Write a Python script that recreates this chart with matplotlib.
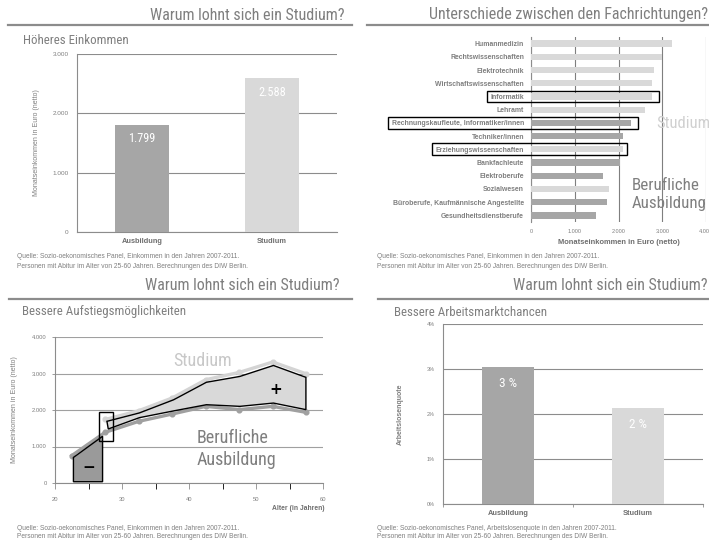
import matplotlib
matplotlib.use("Agg")
import matplotlib.pyplot as plt
from matplotlib.patches import Rectangle
from matplotlib.lines import Line2D

# --- Daten ---
edu_cats = ["Ausbildung", "Studium"]
income_avg = [1799, 2588]
income_labels = ["1.799", "2.588"]

fields = ["Humanmedizin", "Rechtswissenschaften", "Elektrotechnik",
          "Wirtschaftswissenschaften", "Informatik", "Lehramt",
          "Rechnungskaufleute, Informatiker/innen", "Techniker/innen",
          "Erziehungswissenschaften", "Bankfachleute", "Elektroberufe",
          "Sozialwesen", "Büroberufe, Kaufmännische Angestellte",
          "Gesundheitsdienstberufe"]
field_income = [3230, 3000, 2820, 2775, 2775, 2615, 2295, 2095, 2095,
                2035, 1655, 1780, 1735, 1480]
field_is_study = [True, True, True, True, True, True, False, False, True,
                  False, False, True, False, False]
boxed_fields = {"Informatik": (-1000, 2915),
                "Rechnungskaufleute, Informatiker/innen": (-3260, 2440),
                "Erziehungswissenschaften": (-2255, 2185)}

age_ausb = [22.5, 27.5, 32.5, 37.5, 42.5, 47.5, 52.5, 57.5]
inc_ausb = [750, 1390, 1690, 1890, 2100, 2010, 2100, 1935]
age_stud = [27.5, 32.5, 37.5, 42.5, 47.5, 52.5, 57.5]
inc_stud = [1740, 1980, 2330, 2830, 3030, 3315, 2990]

minus_age = [22.75, 22.75, 27.1, 27.1]
minus_val = [35, 700, 1280, 35]
plus_age_upper = [27.75, 32.6, 37.7, 42.6, 47.6, 52.6, 57.45]
plus_val_upper = [1690, 1920, 2280, 2760, 2920, 3220, 2895]
plus_age_lower = [57.45, 52.6, 47.6, 42.6, 37.7, 32.6, 27.95]
plus_val_lower = [2010, 2190, 2100, 2145, 1975, 1790, 1480]

unemp = [3.04, 2.13]
unemp_labels = ["3 %", "2 %"]

source1 = "Quelle: Sozio-oekonomisches Panel, Einkommen in den Jahren 2007-2011."
source2 = "Quelle: Sozio-oekonomisches Panel, Arbeitslosenquote in den Jahren 2007-2011."
persons = "Personen mit Abitur im Alter von 25-60 Jahren. Berechnungen des DIW Berlin."

# --- Stil ---
NARROW = ["Roboto Condensed", "DejaVu Sans"]
SANS = ["Liberation Sans", "DejaVu Sans"]
GREY_TXT = "#7f7f7f"
LAB_TXT = "#6e6e6e"
DARK = "#a6a6a6"
LIGHT = "#d9d9d9"
GRID = "#8c8c8c"

W, H = 709, 540
fig = plt.figure(figsize=(W / 100, H / 100), dpi=100)


def rect(l, t, r, b):
    return [l / W, 1 - b / H, (r - l) / W, (b - t) / H]


def ftext(x, y, s, **kw):
    return fig.text(x / W, 1 - y / H, s, **kw)


def header(title, tx, ty, x0, x1, ly):
    ftext(tx, ty, title, ha="right", va="center", family=NARROW,
          fontsize=11.5, color=GREY_TXT)
    fig.add_artist(Line2D([x0 / W, x1 / W], [1 - ly / H, 1 - ly / H],
                          color="#8c8c8c", lw=1.6, transform=fig.transFigure))


def footer(x, y, first):
    ftext(x, y, first, ha="left", va="center", family=SANS, fontsize=4.75,
          color=GREY_TXT)
    ftext(x, y + 9, persons, ha="left", va="center", family=SANS,
          fontsize=4.75, color=GREY_TXT)


def style_axis(ax, tsize=4.0):
    for s in ["top", "right"]:
        ax.spines[s].set_visible(False)
    for s in ["left", "bottom"]:
        ax.spines[s].set_color(GRID)
        ax.spines[s].set_linewidth(0.8)
    ax.tick_params(colors=GRID, labelcolor=GREY_TXT, labelsize=tsize,
                   length=2.5, width=0.6)
    for lab in ax.get_yticklabels() + ax.get_xticklabels():
        lab.set_family(SANS)


# ---------- Panel 1: Höheres Einkommen ----------
header("Warum lohnt sich ein Studium?", 345, 15, 8, 352, 25)
ftext(23, 40, "Höheres Einkommen", ha="left", va="center", family=NARROW,
      fontsize=9.3, color=GREY_TXT)
ax1 = fig.add_axes(rect(77, 54, 337, 232))
x = range(len(edu_cats))
ax1.bar(x, income_avg, width=0.41, color=[DARK, LIGHT], zorder=3)
for xi, v, lab in zip(x, income_avg, income_labels):
    ax1.text(xi, v - 230, lab, ha="center", va="center", color="white",
             family=NARROW, fontsize=8.8, zorder=4)
ax1.set_xlim(-0.5, 1.5)
ax1.set_ylim(0, 3000)
ax1.set_yticks([0, 1000, 2000, 3000])
ax1.set_yticklabels(["0", "1.000", "2.000", "3.000"])
ax1.set_xticks(list(x))
ax1.set_xticklabels(edu_cats, fontweight="bold")
ax1.yaxis.grid(True, color=GRID, lw=0.8)
style_axis(ax1, 4.6)
ax1.tick_params(axis="x", length=0, labelcolor=LAB_TXT, labelsize=5.3, pad=4)
ax1.tick_params(axis="y", length=0, pad=6)
ax1.set_ylabel("Monatseinkommen in Euro (netto)", family=SANS, fontsize=5.0,
               color=GREY_TXT, labelpad=9)
footer(17, 257, source1)

# ---------- Panel 2: Fachrichtungen ----------
header("Unterschiede zwischen den Fachrichtungen?", 708, 15, 367, 709, 25)
ax2 = fig.add_axes(rect(531, 37, 706, 222))
y = range(len(fields))
cols = [LIGHT if s else DARK for s in field_is_study]
ax2.barh(y, field_income, height=0.48, color=cols, zorder=3)
ax2.set_ylim(len(fields) - 0.5, -0.5)
ax2.set_xlim(0, 4000)
ax2.set_xticks([0, 1000, 2000, 3000, 4000])
ax2.set_xticklabels(["0", "1.000", "2.000", "3.000", "4.000"])
ax2.set_yticks(list(y))
ax2.set_yticklabels(fields, fontweight="bold")
ax2.xaxis.grid(True, color="#7f7f7f", lw=0.8)
style_axis(ax2, 4.0)
ax2.spines["bottom"].set_visible(False)
ax2.tick_params(axis="x", length=0, pad=5)
ax2.tick_params(axis="y", length=0, labelcolor=GREY_TXT, labelsize=4.95,
                pad=5)
ax2.set_xlabel("Monatseinkommen in Euro (netto)", family=SANS, fontsize=5.4,
               fontweight="bold", color=LAB_TXT, labelpad=4)
for name, (x0, x1) in boxed_fields.items():
    i = fields.index(name)
    ax2.add_patch(Rectangle((x0, i - 0.45), x1 - x0, 0.9, fill=False,
                            ec="black", lw=1.0, clip_on=False, zorder=5))
ftext(656, 123, "Studium", ha="left", va="center", family=NARROW,
      fontsize=12, color="#d0d0d0")
ftext(632, 185, "Berufliche", ha="left", va="center", family=NARROW,
      fontsize=12.2, color="#7f7f7f")
ftext(632, 203, "Ausbildung", ha="left", va="center", family=NARROW,
      fontsize=12.2, color="#7f7f7f")
footer(377, 257, source1)

# ---------- Panel 3: Aufstiegsmöglichkeiten ----------
header("Warum lohnt sich ein Studium?", 340, 285, 9, 352, 299)
ftext(22, 312, "Bessere Aufstiegsmöglichkeiten", ha="left", va="center",
      family=NARROW, fontsize=9.3, color=GREY_TXT)
ax3 = fig.add_axes(rect(55, 337, 323, 483))
ax3.plot(age_ausb, inc_ausb, color="#a0a0a0", lw=2.4, marker="o", ms=3.4,
         zorder=3)
ax3.plot(age_stud, inc_stud, color="#d4d4d4", lw=2.4, marker="o", ms=3.4,
         zorder=3)
ax3.fill(minus_age, minus_val, fc="#9a9a9a", ec="black", lw=1.0, zorder=4)
ax3.fill(plus_age_upper + plus_age_lower, plus_val_upper + plus_val_lower,
         fc=LIGHT, ec="black", lw=1.0, zorder=4)
ax3.add_patch(Rectangle((26.5, 1145), 2.2, 800, fill=False, ec="black",
                        lw=1.0, zorder=5))
ax3.text(25.0, 430, "−", ha="center", va="center", fontsize=11,
         fontweight="bold", color="black", family="DejaVu Sans", zorder=6)
ax3.text(52.9, 2560, "+", ha="center", va="center", fontsize=11,
         fontweight="bold", color="black", family="DejaVu Sans", zorder=6)
ax3.set_xlim(20, 60)
ax3.set_ylim(0, 4000)
ax3.set_xticks([20, 30, 40, 50, 60])
ax3.set_xticks([25, 35, 45, 55], minor=True)
ax3.set_yticks([0, 1000, 2000, 3000, 4000])
ax3.set_yticklabels(["0", "1.000", "2.000", "3.000", "4.000"])
ax3.yaxis.grid(True, color="#a0a0a0", lw=0.8)
ax3.set_axisbelow(True)
style_axis(ax3, 4.2)
ax3.tick_params(axis="x", which="both", length=4, pad=6)
ax3.tick_params(axis="y", length=2, pad=4)
ax3.set_ylabel("Monatseinkommen in Euro (netto)", family=SANS, fontsize=5.0,
               color=GREY_TXT, labelpad=10)
ftext(325, 508, "Alter (in Jahren)", ha="right", va="center", family=SANS,
      fontsize=4.9, fontweight="bold", color=LAB_TXT)
ftext(203, 361, "Studium", ha="center", va="center", family=NARROW,
      fontsize=13, color="#c8c8c8")
ftext(197, 438, "Berufliche", ha="left", va="center", family=NARROW,
      fontsize=13, color="#7f7f7f")
ftext(197, 460, "Ausbildung", ha="left", va="center", family=NARROW,
      fontsize=13, color="#7f7f7f")
footer(17, 528, source1)

# ---------- Panel 4: Arbeitsmarktchancen ----------
header("Warum lohnt sich ein Studium?", 708, 285, 378, 709, 299)
ftext(394, 313, "Bessere Arbeitsmarktchancen", ha="left", va="center",
      family=NARROW, fontsize=9.3, color=GREY_TXT)
ax4 = fig.add_axes(rect(443, 324, 703, 504))
ax4.bar(x, unemp, width=0.4, color=[DARK, LIGHT], zorder=3)
for xi, v, lab in zip(x, unemp, unemp_labels):
    ax4.text(xi, v - 0.37, lab, ha="center", va="center", color="white",
             family=NARROW, fontsize=9.5, zorder=4)
ax4.set_xlim(-0.5, 1.5)
ax4.set_ylim(0, 4)
ax4.set_yticks([0, 1, 2, 3, 4])
ax4.set_yticklabels(["0%", "1%", "2%", "3%", "4%"])
ax4.set_xticks(list(x))
ax4.set_xticklabels(edu_cats, fontweight="bold")
ax4.set_xticks([-0.5, 0.5, 1.5], minor=True)
ax4.yaxis.grid(True, color=GRID, lw=0.8)
style_axis(ax4, 4.0)
ax4.tick_params(axis="x", which="major", length=0, labelcolor=LAB_TXT,
                labelsize=5.3, pad=4)
ax4.tick_params(axis="x", which="minor", length=2, width=0.6, color=GRID)
ax4.tick_params(axis="y", length=0, pad=6)
ax4.set_ylabel("Arbeitslosenquote", family=SANS, fontsize=5.0,
               fontweight="bold", color=GREY_TXT, labelpad=16)
footer(377, 528, source2)

fig.savefig("out.png", dpi=100)
